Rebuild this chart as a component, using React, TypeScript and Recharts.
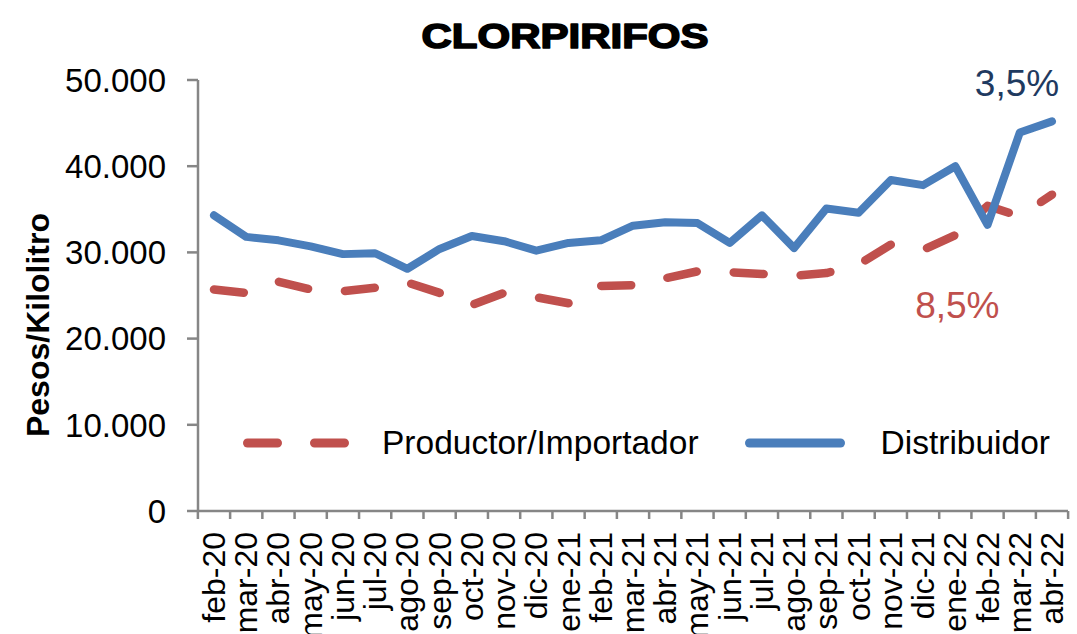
import { LineChart, Line, XAxis, YAxis, Legend, LabelList, Customized } from 'recharts'

const months = [
  'feb-20', 'mar-20', 'abr-20', 'may-20', 'jun-20', 'jul-20', 'ago-20', 'sep-20', 'oct-20',
  'nov-20', 'dic-20', 'ene-21', 'feb-21', 'mar-21', 'abr-21', 'may-21', 'jun-21', 'jul-21',
  'ago-21', 'sep-21', 'oct-21', 'nov-21', 'dic-21', 'ene-22', 'feb-22', 'mar-22', 'abr-22',
]

const distribuidor = [
  34300, 31800, 31400, 30700, 29800, 29900, 28100, 30400, 31900,
  31300, 30200, 31100, 31400, 33100, 33500, 33400, 31100, 34300,
  30500, 35100, 34600, 38400, 37800, 40000, 33200, 43900, 45200,
]

const productor = [
  25700, 25300, 26600, 25700, 25500, 25900, 26500, 25300, 23900,
  25300, 24800, 24100, 26100, 26200, 27000, 27800, 27700, 27500,
  27300, 27600, 28600, 30900, 30300, 32000, 35400, 34200, 36700,
]

const yTicks = [0, 10000, 20000, 30000, 40000, 50000]

// variation notes shown next to the series
const distNote = { month: 'abr-22', text: '3,5%' }
const prodNote = { month: 'ene-22', text: '8,5%' }

const data = months.map((m, i) => ({
  month: m,
  productor: productor[i],
  distribuidor: distribuidor[i],
  distNote: m === distNote.month ? distNote.text : null,
  prodNote: m === prodNote.month ? prodNote.text : null,
}))

const FONT = '"Liberation Sans", Arial, sans-serif'
const AXIS = '#868686'
const RED = '#C0504D'
const BLUE = '#4A7EBB'
const BAND = 870 / 27

const fmt = (v: number) => (v === 0 ? '0' : `${v / 1000}.000`)

function MonthTick(props: any) {
  const { x, y, payload, index } = props
  return (
    <g>
      <line x1={x - BAND / 2} x2={x - BAND / 2} y1={y} y2={y + 8} stroke={AXIS} strokeWidth={2.5} />
      {index === months.length - 1 && (
        <line x1={x + BAND / 2} x2={x + BAND / 2} y1={y} y2={y + 8} stroke={AXIS} strokeWidth={2.5} />
      )}
      <text
        transform={`translate(${x},${y + 21}) rotate(-90)`}
        textAnchor="end"
        dominantBaseline="central"
        fontSize={32}
        fontFamily={FONT}
        fill="#000"
      >
        {payload.value}
      </text>
    </g>
  )
}

function LegendBox() {
  return (
    <div style={{ display: 'flex', alignItems: 'center', fontFamily: FONT, fontSize: 33.5, lineHeight: '40px', color: '#000', whiteSpace: 'nowrap' }}>
      <svg width={112} height={14}>
        <line x1={7.5} x2={105} y1={7} y2={7} stroke={RED} strokeWidth={9} strokeLinecap="round" strokeDasharray="30 37" />
      </svg>
      <span style={{ marginLeft: 30 }}>Productor/Importador</span>
      <svg width={100} height={14} style={{ marginLeft: 46 }}>
        <line x1={4.5} x2={95.5} y1={7} y2={7} stroke={BLUE} strokeWidth={9} strokeLinecap="round" />
      </svg>
      <span style={{ marginLeft: 36 }}>Distribuidor</span>
    </div>
  )
}

export default function App() {
  return (
    <div style={{ position: 'absolute', left: 0, top: 0, background: '#fff' }}>
      <LineChart width={1077} height={634} data={data} margin={{ top: 80, right: 9, left: 0, bottom: 0 }}>
        <XAxis
          dataKey="month"
          height={123}
          interval={0}
          padding={{ left: 16, right: 16 }}
          tickSize={0}
          tickMargin={0}
          tickLine={false}
          axisLine={{ stroke: AXIS, strokeWidth: 2.5 }}
          tick={<MonthTick />}
        />
        <YAxis
          width={198}
          domain={[0, 50000]}
          ticks={yTicks}
          tickSize={11}
          tickMargin={21}
          tickFormatter={fmt}
          axisLine={{ stroke: AXIS, strokeWidth: 2.5 }}
          tickLine={{ stroke: AXIS, strokeWidth: 2.5 }}
          tick={{ fontSize: 33, fill: '#000', fontFamily: FONT }}
        />
        <Legend
          layout="horizontal"
          verticalAlign="middle"
          align="center"
          wrapperStyle={{ top: 423, left: 240, width: 840 }}
          content={() => <LegendBox />}
        />
        <Line
          dataKey="productor"
          name="Productor/Importador"
          stroke={RED}
          strokeWidth={8.5}
          strokeDasharray="30 37"
          strokeLinecap="round"
          strokeLinejoin="round"
          dot={false}
          activeDot={false}
          isAnimationActive={false}
        >
          <LabelList
            dataKey="prodNote"
            content={(p: any) =>
              p.value ? (
                <text x={p.x + 2} y={p.y + 83} textAnchor="middle" fontSize={37} fontFamily={FONT} fill={RED}>
                  {p.value}
                </text>
              ) : null
            }
          />
        </Line>
        <Line
          dataKey="distribuidor"
          name="Distribuidor"
          stroke={BLUE}
          strokeWidth={8}
          strokeLinecap="round"
          strokeLinejoin="round"
          dot={false}
          activeDot={false}
          isAnimationActive={false}
        >
          <LabelList
            dataKey="distNote"
            content={(p: any) =>
              p.value ? (
                <text x={p.x - 35} y={p.y - 25} textAnchor="middle" fontSize={37} fontFamily={FONT} fill="#1F3A60">
                  {p.value}
                </text>
              ) : null
            }
          />
        </Line>
        <Customized
          component={() => (
            <g>
              <text
                x={565}
                y={48}
                textAnchor="middle"
                fontSize={35}
                fontWeight="bold"
                fontFamily={FONT}
                fill="#000"
                stroke="#000"
                strokeWidth={1.6}
                strokeLinejoin="round"
                textLength={287}
                lengthAdjust="spacingAndGlyphs"
              >
                CLORPIRIFOS
              </text>
              <text
                transform="translate(38,325) rotate(-90)"
                textAnchor="middle"
                dominantBaseline="central"
                fontSize={32}
                fontWeight="bold"
                fontFamily={FONT}
                fill="#000"
              >
                Pesos/Kilolitro
              </text>
            </g>
          )}
        />
      </LineChart>
    </div>
  )
}
